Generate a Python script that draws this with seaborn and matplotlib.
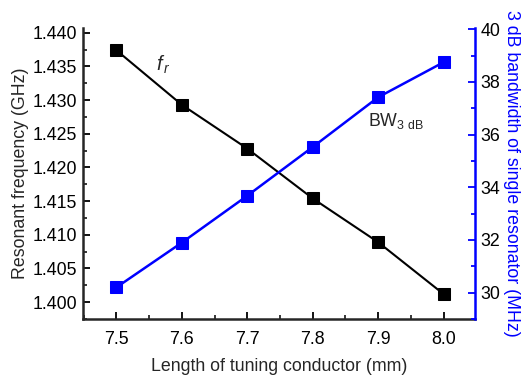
import numpy as np
import pandas as pd
import matplotlib
matplotlib.use("Agg")
import matplotlib.pyplot as plt
from matplotlib.ticker import MultipleLocator, FormatStrFormatter
import seaborn as sns

length_mm = [7.5, 7.6, 7.7, 7.8, 7.9, 8.0]
resonant_ghz = [1.4374, 1.4293, 1.4228, 1.4154, 1.4089, 1.4012]
bw_mhz = [30.2, 31.9, 33.68, 35.53, 37.42, 38.75]

sns.set_style("ticks")
plt.rcParams['font.family'] = ['Liberation Sans', 'DejaVu Sans']
plt.rcParams['mathtext.fontset'] = 'custom'
plt.rcParams['mathtext.rm'] = 'Liberation Sans'
plt.rcParams['mathtext.it'] = 'Liberation Sans:italic'

df = pd.DataFrame({"x": length_mm, "fr": resonant_ghz, "bw": bw_mhz})

fig = plt.figure(figsize=(5.32, 3.75), dpi=100)
ax = fig.add_axes([83/532, 1-319/375, (475-83)/532, (319-28)/375])
ax2 = ax.twinx()

sns.lineplot(data=df, x="x", y="fr", ax=ax, color="black", marker="s",
             markersize=8, markeredgecolor="black", linewidth=1.5)
sns.lineplot(data=df, x="x", y="bw", ax=ax2, color="blue", marker="s",
             markersize=8, markeredgecolor="blue", linewidth=1.8)

ax.set_xlim(7.449, 8.048)
ax.set_ylim(1.3975, 1.4407)
ax2.set_ylim(29.0, 40.05)

fs = 12.8
ax.xaxis.set_major_locator(MultipleLocator(0.1))
ax.xaxis.set_minor_locator(MultipleLocator(0.05))
ax.xaxis.set_major_formatter(FormatStrFormatter('%.1f'))
ax.yaxis.set_major_locator(MultipleLocator(0.005))
ax.yaxis.set_minor_locator(MultipleLocator(0.0025))
ax.yaxis.set_major_formatter(FormatStrFormatter('%.3f'))
ax2.yaxis.set_major_locator(MultipleLocator(2))
ax2.yaxis.set_minor_locator(MultipleLocator(1))

for a in (ax, ax2):
    a.tick_params(which='major', direction='in', length=5, width=1.3, labelsize=fs, pad=4)
    a.tick_params(which='minor', direction='in', length=3, width=1.3)
ax.tick_params(axis='x', pad=9)
ax.tick_params(axis='both', colors='black', labelcolor='black')
ax2.tick_params(axis='y', which='both', colors='blue', labelcolor='black', right=True, left=False)

ax.spines['top'].set_visible(False)
ax.spines['right'].set_visible(False)
ax2.spines['top'].set_visible(False)
ax2.spines['left'].set_visible(False)
ax2.spines['bottom'].set_visible(False)
ax2.spines['right'].set_color('blue')
ax2.spines['right'].set_linewidth(1.8)
ax.spines['left'].set_linewidth(1.8)
ax.spines['bottom'].set_linewidth(1.8)

ax.set_xlabel("Length of tuning conductor (mm)", fontsize=fs, labelpad=7)
ax.set_ylabel("Resonant frequency (GHz)", fontsize=fs, labelpad=3)
ax2.set_ylabel("3 dB bandwidth of single resonator (MHz)", fontsize=fs,
               color='blue', rotation=270, labelpad=14)

ax.text(7.56, 1.4353, r"$\mathit{f}_{\,\mathit{r}}$", fontsize=fs+1.5, ha='left', va='center')
ax2.text(7.885, 36.5, r"BW$_{3\ \mathrm{dB}}$", fontsize=fs, ha='left', va='center')

fig.savefig("out.png", dpi=100)
